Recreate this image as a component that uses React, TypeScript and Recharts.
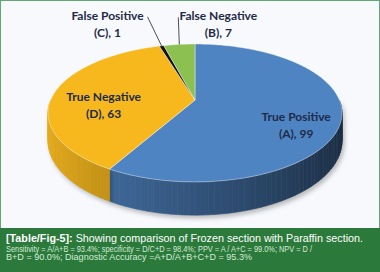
import { PieChart, Pie } from "recharts"

const categories = ["True Positive", "True Negative", "False Positive", "False Negative"]
const codes = ["(A)", "(D)", "(C)", "(B)"]
const counts = [99, 63, 1, 7]
const topColors = ["#4f84c2", "#f6b81d", "#111111", "#8cc152"]

// where each label sits: fraction of the radius, then a nudge in px
const labelRadius = [0.69, 0.65, 1, 1]
const labelShift = [
  [0, 13],
  [0, 10],
  [-54, -22],
  [39, -20],
]

const data = categories.map((name, i) => ({ name, code: codes[i], value: counts[i] }))

// the disc is tilted and seen in perspective, like the Excel 3D pie
const CX = 195
const CY = 100
const RX = 144.4
const RY = 66.5
const K = 0.188
const DEPTH = 27

function proj(deg: number, drop = 0) {
  const t = (deg * Math.PI) / 180
  const w = 1 + K * Math.sin(t)
  return { x: CX + (RX * Math.cos(t)) / w, y: CY + (drop * DEPTH - RY * Math.sin(t)) / w }
}

function shade(hex: string, f: number) {
  const n = parseInt(hex.slice(1), 16)
  const c = [(n >> 16) & 255, (n >> 8) & 255, n & 255].map((v) => Math.round(Math.min(255, v * f)))
  return `rgb(${c[0]},${c[1]},${c[2]})`
}

function arcPoints(a: number, b: number, drop = 0) {
  const n = Math.max(2, Math.ceil(Math.abs(b - a)))
  const pts: string[] = []
  for (let i = 0; i <= n; i++) {
    const p = proj(a + ((b - a) * i) / n, drop)
    pts.push(`${p.x.toFixed(2)},${p.y.toFixed(2)}`)
  }
  return pts
}

function renderWall(props: any) {
  const { startAngle, endAngle, index } = props
  const lo = Math.min(startAngle, endAngle)
  const hi = Math.max(startAngle, endAngle)
  const segs: any[] = []
  for (let off = -720; off <= 720; off += 360) {
    const a = Math.max(lo, off - 180)
    const b = Math.min(hi, off)
    if (b <= a) continue
    const n = Math.max(1, Math.ceil((b - a) / 2))
    for (let i = 0; i < n; i++) {
      const s = a + ((b - a) * i) / n
      const e = a + ((b - a) * (i + 1)) / n
      const p1 = proj(s), p2 = proj(e), p3 = proj(e, 1), p4 = proj(s, 1)
      const mid = (((s + e) / 2) * Math.PI) / 180
      const col = shade(topColors[index], 0.64 - 0.3 * Math.cos(mid))
      segs.push(
        <path
          key={`${off}-${i}`}
          d={`M${p1.x},${p1.y}L${p2.x},${p2.y}L${p3.x},${p3.y}L${p4.x},${p4.y}Z`}
          fill={col}
          stroke={col}
          strokeWidth={0.6}
        />
      )
    }
  }
  return (
    <g key={`wall-${index}`} style={{ filter: "drop-shadow(2px 3px 2px rgba(0,0,0,0.25))" }}>
      {segs}
    </g>
  )
}

function renderFace(props: any) {
  const { startAngle, endAngle, index } = props
  const pts = arcPoints(startAngle, endAngle)
  return (
    <path
      key={`face-${index}`}
      d={`M${CX},${CY}L${pts.join("L")}Z`}
      fill={topColors[index]}
      stroke="rgba(255,255,255,0.55)"
      strokeWidth={0.7}
      strokeLinejoin="round"
    />
  )
}

function renderText(props: any) {
  const { midAngle, index, payload } = props
  const edge = proj(midAngle)
  const f = labelRadius[index]
  const x = CX + (edge.x - CX) * f + labelShift[index][0]
  const y = CY + (edge.y - CY) * f + labelShift[index][1]
  const name = payload?.name ?? categories[index]
  const outside = f >= 1
  const half = 40
  const endX = x < edge.x ? x + half : x - half
  return (
    <g key={`txt-${index}`}>
      {outside && (
        <line x1={edge.x} y1={edge.y} x2={endX} y2={y - 7} stroke="#222" strokeWidth={0.8} />
      )}
      <text
        x={x}
        y={y}
        textAnchor="middle"
        fontFamily="Lato, 'Open Sans', sans-serif"
        fontWeight={700}
        fontSize={12}
        fill="#1e2b47"
      >
        <tspan x={x} y={y - 4}>
          {name}
        </tspan>
        <tspan x={x} y={y + 13}>
          {`${codes[index]}, ${counts[index]}`}
        </tspan>
      </text>
    </g>
  )
}

export default function App() {
  return (
    <div style={{ position: "absolute", left: 0, top: 0, width: 380, height: 272, background: "#fff", overflow: "hidden" }}>
      <div
        style={{
          position: "absolute",
          left: 0,
          top: 0,
          width: 380,
          height: 228,
          boxSizing: "border-box",
          border: "1.5px solid #62a872",
          borderBottom: "none",
          background: "#f7f9fc",
        }}
      />
      <div style={{ position: "absolute", left: 0, top: 0 }}>
        <PieChart width={380} height={228} margin={{ top: 0, right: 0, bottom: 0, left: 0 }}>
          <Pie
            data={data}
            dataKey="value"
            nameKey="name"
            cx={CX}
            cy={CY}
            outerRadius={RX}
            startAngle={90}
            endAngle={-270}
            fill="transparent"
            stroke="none"
            label={renderWall}
            labelLine={false}
            isAnimationActive={false}
          />
          <Pie
            data={data}
            dataKey="value"
            nameKey="name"
            cx={CX}
            cy={CY}
            outerRadius={RX}
            startAngle={90}
            endAngle={-270}
            fill="transparent"
            stroke="none"
            label={renderFace}
            labelLine={false}
            isAnimationActive={false}
          />
          <Pie
            data={data}
            dataKey="value"
            nameKey="name"
            cx={CX}
            cy={CY}
            outerRadius={RX}
            startAngle={90}
            endAngle={-270}
            fill="transparent"
            stroke="none"
            label={renderText}
            labelLine={false}
            isAnimationActive={false}
          />
        </PieChart>
      </div>
      <svg
        width={380}
        height={44}
        style={{ position: "absolute", left: 0, top: 228, display: "block" }}
        fontFamily="'Liberation Sans', Arial, sans-serif"
      >
        <rect x={0} y={0} width={380} height={44} fill="#2b7a3b" />
        <text x={6} y={14} fontSize={10.6} fill="#ffffff" textLength={357} lengthAdjust="spacingAndGlyphs">
          <tspan fontWeight={700}>[Table/Fig-5]:</tspan>
          <tspan> Showing comparison of Frozen section with Paraffin section.</tspan>
        </text>
        <text x={6} y={23.7} fontSize={8.2} fill="#d3ead6" textLength={306} lengthAdjust="spacingAndGlyphs">
          Sensitivity = A/A+B = 93.4%; specificity = D/C+D = 98.4%; PPV = A / A+C = 99.0%; NPV = D /
        </text>
        <text x={6} y={32.3} fontSize={8.2} fill="#d3ead6" textLength={246} lengthAdjust="spacingAndGlyphs">
          B+D = 90.0%; Diagnostic Accuracy =A+D/A+B+C+D = 95.3%
        </text>
      </svg>
    </div>
  )
}
